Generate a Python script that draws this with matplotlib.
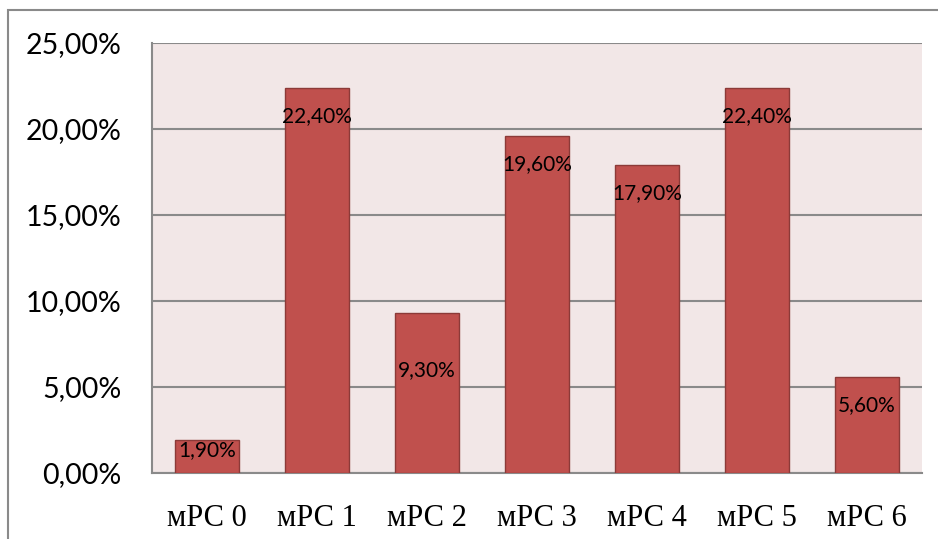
import numpy as np
import matplotlib.pyplot as plt
from matplotlib.patches import Rectangle

categories = ['мРС 0', 'мРС 1', 'мРС 2', 'мРС 3', 'мРС 4', 'мРС 5', 'мРС 6']
values = [1.9, 22.4, 9.3, 19.6, 17.9, 22.4, 5.6]
labels = ['1,90%', '22,40%', '9,30%', '19,60%', '17,90%', '22,40%', '5,60%']
yticks = [0, 5, 10, 15, 20, 25]
ytick_labels = ['0,00%', '5,00%', '10,00%', '15,00%', '20,00%', '25,00%']

# label offset below bar top, in pixels (Excel placed them unevenly)
label_drop = [10, 28, 57, 28, 28, 28, 28]


def main():
    fig = plt.figure(figsize=(9.38, 5.39), dpi=100)
    fig.patch.set_facecolor('white')
    # outer chart border
    fig.patches.append(Rectangle((8 / 938, -0.01), 1.0, 1 - 10 / 539 + 0.01,
                                 transform=fig.transFigure, fill=False,
                                 edgecolor='#8a8a8a', linewidth=1.5))

    ax = fig.add_axes([152 / 938, 1 - 473 / 539, 770 / 938, 430 / 539])
    ax.set_facecolor('#f2e7e7')
    x = np.arange(len(categories))
    ax.bar(x, values, width=0.58, color='#c0504d', edgecolor='#8c3a38',
           linewidth=1.0, zorder=3)
    ax.set_xlim(-0.5, len(categories) - 0.5)
    ax.set_ylim(0, 25)
    ax.set_yticks(yticks)
    ax.set_yticklabels(ytick_labels, fontsize=20.5, family='Lato')
    ax.set_xticks(x)
    ax.set_xticklabels(categories, fontsize=22, family='Liberation Serif')
    ax.tick_params(axis='both', length=0)
    ax.tick_params(axis='y', pad=22)
    ax.tick_params(axis='x', pad=22)
    ax.grid(axis='y', color='#8a8a8a', linewidth=1.5, zorder=1)
    for side in ['top', 'right']:
        ax.spines[side].set_visible(False)
    ax.spines['left'].set_color('#8a8a8a')
    ax.spines['bottom'].set_color('#8a8a8a')
    ax.spines['left'].set_linewidth(1.5)
    ax.spines['bottom'].set_linewidth(1.5)

    for xi, v, lab, d in zip(x, values, labels, label_drop):
        ax.annotate(lab, (xi, v), xytext=(0, -d * 0.72), textcoords='offset points',
                    ha='center', va='center', fontsize=15, family='Lato',
                    color='black', zorder=4)

    fig.savefig('out.png', dpi=100)
    return 2


if __name__ == '__main__':
    main()
